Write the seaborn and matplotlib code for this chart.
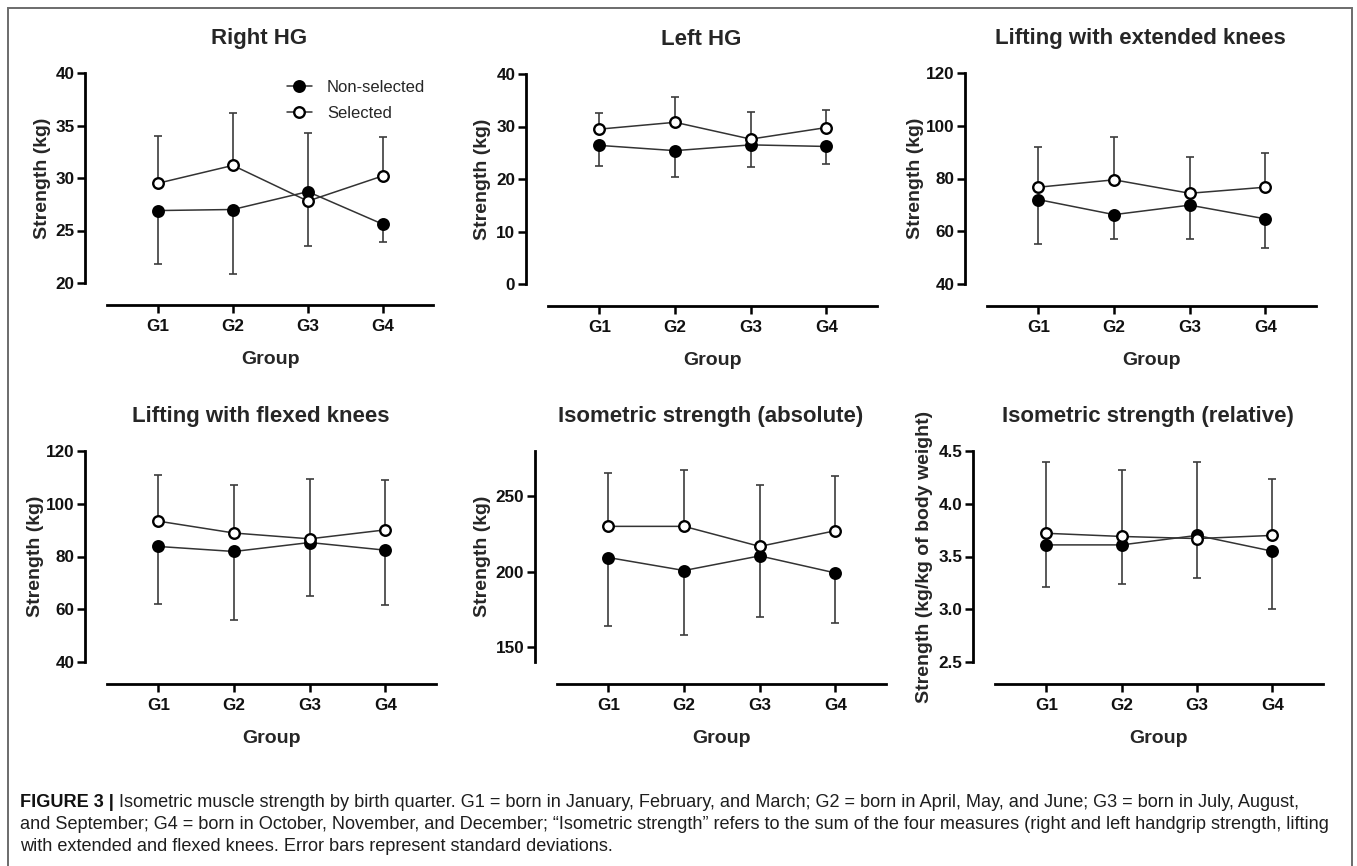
import matplotlib
matplotlib.use("Agg")
import matplotlib.pyplot as plt
import numpy as np
import pandas as pd
import seaborn as sns
from matplotlib.lines import Line2D

# Birth-quarter groups shared by every panel.
GROUPS = ["G1", "G2", "G3", "G4"]
STATUS = ["Non-selected", "Selected"]

# Means and standard deviations, one list per series.
RHG_NON = [26.9, 27.0, 28.7, 25.6]
RHG_NON_SD = [5.1, 6.1, 5.2, 1.7]
RHG_SEL = [29.5, 31.2, 27.8, 30.2]
RHG_SEL_SD = [4.5, 5.0, 6.5, 3.7]

LHG_NON = [26.4, 25.4, 26.5, 26.2]
LHG_NON_SD = [4.0, 5.0, 4.3, 3.3]
LHG_SEL = [29.5, 30.8, 27.6, 29.8]
LHG_SEL_SD = [3.1, 4.9, 5.2, 3.4]

EXT_NON = [72.0, 66.3, 69.9, 64.7]
EXT_NON_SD = [17.0, 9.3, 12.7, 11.0]
EXT_SEL = [76.7, 79.5, 74.4, 76.7]
EXT_SEL_SD = [15.1, 16.4, 13.6, 13.1]

FLX_NON = [83.8, 81.9, 85.3, 82.4]
FLX_NON_SD = [21.8, 25.8, 20.4, 20.8]
FLX_SEL = [93.4, 88.9, 86.7, 90.1]
FLX_SEL_SD = [17.5, 18.3, 22.8, 19.0]

ABS_NON = [209.3, 200.7, 210.4, 199.1]
ABS_NON_SD = [45.1, 43.1, 40.4, 33.5]
ABS_SEL = [230.0, 230.0, 216.7, 227.1]
ABS_SEL_SD = [35.6, 37.6, 40.6, 36.5]

REL_NON = [3.61, 3.61, 3.70, 3.55]
REL_NON_SD = [0.40, 0.37, 0.40, 0.55]
REL_SEL = [3.72, 3.69, 3.67, 3.70]
REL_SEL_SD = [0.68, 0.63, 0.73, 0.53]

TITLES = [
    "Right HG",
    "Left HG",
    "Lifting with extended knees",
    "Lifting with flexed knees",
    "Isometric strength (absolute)",
    "Isometric strength (relative)",
]
YLABELS = ["Strength (kg)"] * 5 + ["Strength (kg/kg of body weight)"]
YLIMS = [(20, 40), (0, 40), (40, 120), (40, 120), (140, 280), (2.5, 4.5)]
YTICKS = [
    [20, 25, 30, 35, 40],
    [0, 10, 20, 30, 40],
    [40, 60, 80, 100, 120],
    [40, 60, 80, 100, 120],
    [150, 200, 250],
    [2.5, 3.0, 3.5, 4.0, 4.5],
]
SERIES = [
    (RHG_NON, RHG_NON_SD, RHG_SEL, RHG_SEL_SD),
    (LHG_NON, LHG_NON_SD, LHG_SEL, LHG_SEL_SD),
    (EXT_NON, EXT_NON_SD, EXT_SEL, EXT_SEL_SD),
    (FLX_NON, FLX_NON_SD, FLX_SEL, FLX_SEL_SD),
    (ABS_NON, ABS_NON_SD, ABS_SEL, ABS_SEL_SD),
    (REL_NON, REL_NON_SD, REL_SEL, REL_SEL_SD),
]

CAPTION_HEAD = "FIGURE 3 |"
CAPTION_LINES = [
    " Isometric muscle strength by birth quarter. G1 = born in January, February, and March; "
    "G2 = born in April, May, and June; G3 = born in July, August,",
    "and September; G4 = born in October, November, and December; \u201cIsometric strength\u201d "
    "refers to the sum of the four measures (right and left handgrip strength, lifting",
    "with extended and flexed knees. Error bars represent standard deviations.",
]

MARKER_KW = dict(marker="o", markersize=7.6, markeredgecolor="black", markeredgewidth=1.7)


def build_frame(non, non_sd, sel, sel_sd) -> pd.DataFrame:
    # Long-form table: one row per group and selection status.
    rows = []
    for status, means, sds in [("Non-selected", non, non_sd), ("Selected", sel, sel_sd)]:
        for i, g in enumerate(GROUPS):
            rows.append({"Group": g, "x": i, "Status": status, "Mean": means[i], "SD": sds[i]})
    return pd.DataFrame(rows)


def draw_panel(ax, df, title, ylabel, ylim, yticks, label_x) -> None:
    # GraphPad style: selected bars point up, non-selected bars point down.
    for status, face, up in [("Non-selected", "black", False), ("Selected", "white", True)]:
        sub = df[df["Status"] == status]
        sd = sub["SD"].to_numpy()
        zeros = np.zeros_like(sd)
        yerr = [zeros, sd] if up else [sd, zeros]
        ax.errorbar(sub["x"], sub["Mean"], yerr=yerr, fmt="none", ecolor="#3c3c3c",
                    elinewidth=1.2, capsize=3.2, capthick=1.2, zorder=1)
        sns.lineplot(data=sub, x="x", y="Mean", ax=ax, color="#333333", linewidth=1.1,
                     markerfacecolor=face, errorbar=None, zorder=3, **MARKER_KW)

    # Offset spines first: moving a spine rebuilds the tick objects.
    for side in ["left", "bottom"]:
        ax.spines[side].set_linewidth(2.0)
        ax.spines[side].set_color("black")
    sns.despine(ax=ax, offset={"left": 16, "bottom": 16})

    ax.set_xlim(-0.68, 3.67)
    ax.set_ylim(*ylim)
    ax.tick_params(axis="both", labelsize=12.3, width=1.8, length=6, color="black",
                   labelcolor="#111111")
    ax.tick_params(axis="y", pad=1.5)
    ax.tick_params(axis="x", pad=4)
    if ylim[1] < 10:
        ylabels = [f"{t:.1f}" for t in yticks]
    else:
        ylabels = [f"{t:g}" for t in yticks]
    ax.set_yticks(yticks, ylabels, fontweight="bold")
    ax.set_xticks(range(len(GROUPS)), GROUPS, fontweight="bold")
    ax.set_xlabel("Group", fontsize=14, fontweight="bold", labelpad=12)
    ax.set_ylabel(ylabel, fontsize=14, fontweight="bold")
    ax.yaxis.set_label_coords(label_x, 0.5)
    ax.set_title(title, fontsize=16, fontweight="bold", x=0.466, pad=21)


def main() -> None:
    sns.set_theme(style="ticks")
    plt.rcParams["font.family"] = ["Liberation Sans", "DejaVu Sans"]

    fig = plt.figure(figsize=(13.57, 8.66), dpi=100)
    W, H = 1357, 866
    # Axes boxes in pixels: (left, right, top, bottom) of the plotting area.
    boxes = [
        (107, 433, 73, 283),
        (548, 877, 74, 284),
        (987, 1316, 73, 284),
        (107, 436, 451, 662),
        (557, 886, 451, 662),
        (995, 1323, 451, 662),
    ]
    label_xs = [-0.172, -0.172, -0.19, -0.19, -0.2, -0.19]

    axes = []
    for k, (l, r, t, b) in enumerate(boxes):
        ax = fig.add_axes([l / W, 1 - b / H, (r - l) / W, (b - t) / H])
        df = build_frame(*SERIES[k])
        draw_panel(ax, df, TITLES[k], YLABELS[k], YLIMS[k], YTICKS[k], label_xs[k])
        axes.append(ax)

    # Legend only on the first panel.
    handles = [
        Line2D([], [], color="#333333", lw=1.1, markerfacecolor=f, **MARKER_KW)
        for f in ["black", "white"]
    ]
    axes[0].legend(handles, STATUS, loc="upper left", bbox_to_anchor=(0.552, 0.966),
                   frameon=False, fontsize=12, handlelength=1.5, handletextpad=0.9,
                   labelspacing=0.65, borderpad=0, borderaxespad=0)

    # Figure border and caption drawn in figure coordinates.
    overlay = fig.add_axes([0, 0, 1, 1])
    overlay.set_xlim(0, W)
    overlay.set_ylim(H, 0)
    overlay.axis("off")
    overlay.plot([8, 8, 1352, 1352], [H, 8, 8, H], color="#6b6b6b", lw=1.4,
                 solid_joinstyle="miter")

    cap_size = 13.1
    head = overlay.text(20, 807, CAPTION_HEAD, fontsize=cap_size, fontweight="bold",
                        color="#111111", va="baseline", ha="left")
    overlay.annotate(CAPTION_LINES[0], xy=(1, 0), xycoords=head, va="bottom",
                     ha="left", fontsize=cap_size, color="#1e1e1e")
    overlay.text(20, 829, CAPTION_LINES[1], fontsize=cap_size, color="#1e1e1e", va="baseline")
    overlay.text(20, 851, CAPTION_LINES[2], fontsize=cap_size, color="#1e1e1e", va="baseline")

    fig.savefig("out.png", dpi=100, facecolor="white")
    plt.close(fig)


if __name__ == "__main__":
    main()
